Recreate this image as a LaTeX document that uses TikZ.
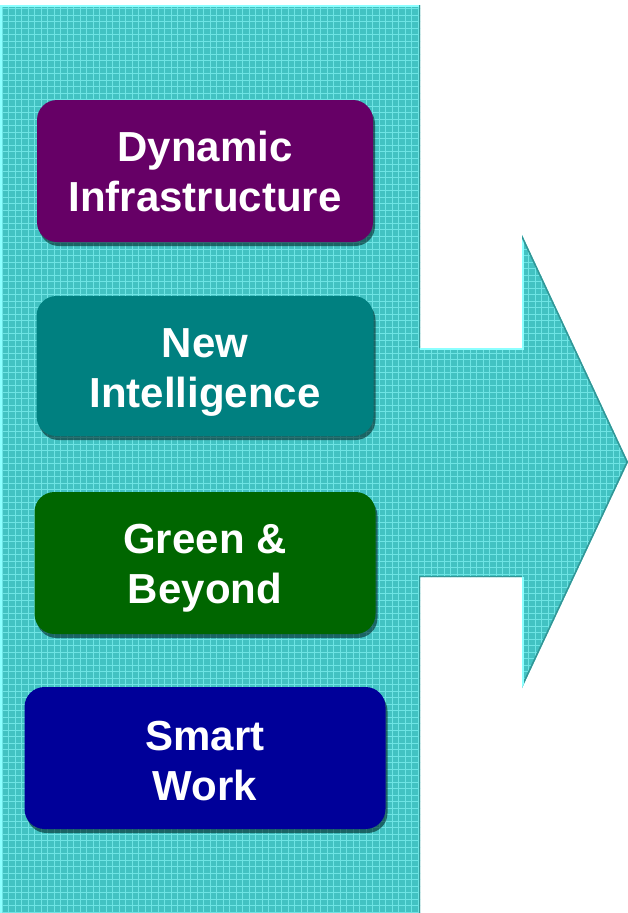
\documentclass[tikz,border=0pt]{standalone}
\usepackage{fontspec}
\setmainfont{Liberation Sans}
\usetikzlibrary{shadows}
\definecolor{arrowfill}{RGB}{66,194,194}
\definecolor{gridlight}{RGB}{110,228,228}
\definecolor{edgelight}{RGB}{140,255,255}
\definecolor{edgedark}{RGB}{50,150,150}
\definecolor{cpurple}{RGB}{102,0,102}
\definecolor{cteal}{RGB}{0,128,128}
\definecolor{cgreen}{RGB}{0,102,0}
\definecolor{cnavy}{RGB}{0,0,153}
\newcommand{\twolines}[3]{\raisebox{-#1}[\height][\depth]{\begin{tabular}{@{}c@{}}#2\\#3\end{tabular}}}
\tikzset{
  pillar/.style={rounded corners=20pt, inner sep=0pt, text=white,
    font=\bfseries\fontsize{42}{50}\selectfont,
    drop shadow={shadow xshift=2pt, shadow yshift=-4pt, fill=black!70!cteal, opacity=0.6}},
  lightedge/.style={draw=edgelight, line width=3pt},
  darkedge/.style={draw=edgedark, line width=3pt}
}
\begin{document}
\begin{tikzpicture}[x=1pt,y=-1pt]
\useasboundingbox (0,0) rectangle (628,913);
\fill[white] (0,0) rectangle (628,913);
% big arrow shape
\def\arrowpath{(0,5) -- (420,5) -- (420,348) -- (522,348) -- (522,235) -- (628,462) -- (522,688) -- (522,577) -- (420,577) -- (420,913) -- (0,913) -- cycle}
\fill[arrowfill] \arrowpath;
\begin{scope}
  \clip \arrowpath;
  \foreach \i in {0,...,97} {
    \draw[gridlight, line width=0.8pt] (\i*6.5+2,0) -- (\i*6.5+2,913);
  }
  \foreach \j in {0,...,141} {
    \draw[gridlight, line width=0.8pt] (0,\j*6.5+2) -- (628,\j*6.5+2);
  }
  % bevel edges
  \draw[lightedge] (0,913) -- (0,5) -- (420,5);
  \draw[darkedge] (420,5) -- (420,348);
  \draw[lightedge] (420,348) -- (522,348) -- (522,235);
  \draw[darkedge] (522,235) -- (628,462);
  \draw[darkedge] (628,462) -- (522,688);
  \draw[lightedge] (522,688) -- (522,577);
  \draw[darkedge] (522,577) -- (420,577) -- (420,913);
\end{scope}
% pillars
\node[pillar, fill=cpurple, minimum width=336pt, minimum height=142pt] (dyn) at (205,171) {\twolines{5pt}{Dynamic}{Infrastructure}};
\node[pillar, fill=cteal, minimum width=337pt, minimum height=140pt] (intel) at (205,366) {\twolines{6pt}{New}{Intelligence}};
\node[pillar, fill=cgreen, minimum width=341pt, minimum height=142pt] (green) at (205,563) {\twolines{5pt}{Green \&}{Beyond}};
\node[pillar, fill=cnavy, minimum width=361pt, minimum height=142pt] (smart) at (205,758) {\twolines{7pt}{Smart}{Work}};
\end{tikzpicture}
\end{document}
